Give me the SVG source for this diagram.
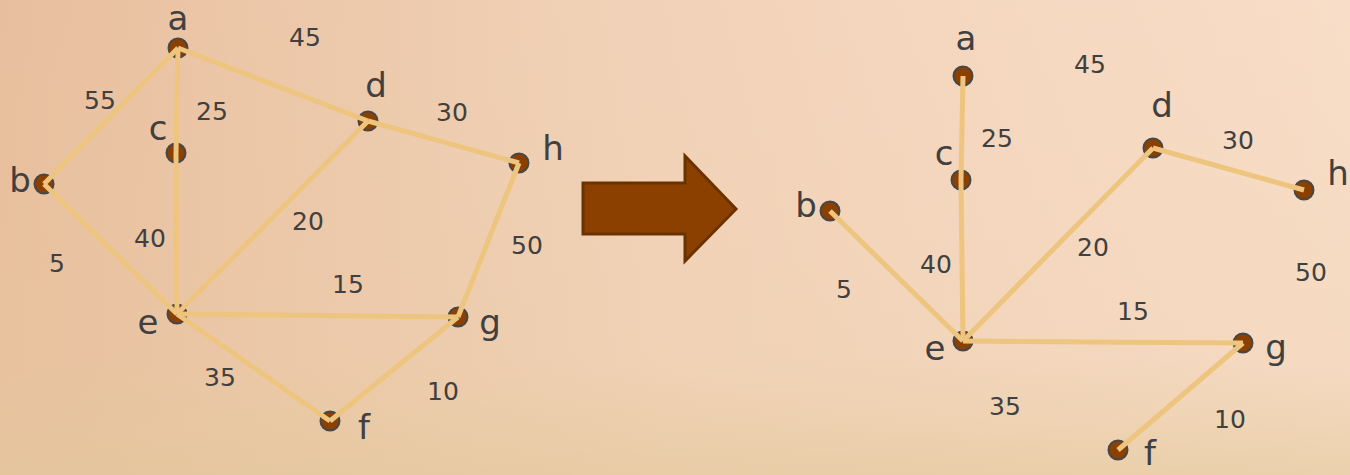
<svg xmlns="http://www.w3.org/2000/svg" width="1350" height="475" viewBox="0 0 1350 475">
<defs>
<linearGradient id="bgH" x1="0" y1="0" x2="1" y2="0">
<stop offset="0" stop-color="#E8BF9E"/>
<stop offset="0.5" stop-color="#F2D3B9"/>
<stop offset="1" stop-color="#F8DDC8"/>
</linearGradient>
<linearGradient id="bgV" x1="0" y1="0" x2="0" y2="1">
<stop offset="0" stop-color="#E6CBA0" stop-opacity="0"/>
<stop offset="0.75" stop-color="#E6CBA0" stop-opacity="0.15"/>
<stop offset="1" stop-color="#E2C89A" stop-opacity="0.6"/>
</linearGradient>
<style>
.nd{fill:#8B4000;stroke:#474747;stroke-width:2}
.lb{font-family:"Comic Sans MS","DejaVu Sans","Noto Sans",sans-serif;font-size:34px;fill:#404040;text-anchor:middle;dominant-baseline:central}
.w{font-family:"Comic Sans MS","DejaVu Sans","Noto Sans",sans-serif;font-size:25px;fill:#404040;text-anchor:middle;dominant-baseline:central}
.ed{stroke:#EEC57E;stroke-width:5;fill:none;stroke-linecap:butt}
</style>
</defs>
<rect width="1350" height="475" fill="url(#bgH)"/>
<rect width="1350" height="475" fill="url(#bgV)"/>

<g id="left-graph-nodes">
<g id="L-a"><circle class="nd" cx="178" cy="48" r="9.5"/><text class="lb" x="178" y="18">a</text></g>
<g id="L-b"><circle class="nd" cx="44" cy="184" r="9.5"/><text class="lb" x="20" y="180">b</text></g>
<g id="L-c"><circle class="nd" cx="176" cy="153" r="9.5"/><text class="lb" x="158" y="128">c</text></g>
<g id="L-d"><circle class="nd" cx="368" cy="121" r="9.5"/><text class="lb" x="376" y="85">d</text></g>
<g id="L-h"><circle class="nd" cx="519" cy="163" r="9.5"/><text class="lb" x="553" y="148">h</text></g>
<g id="L-e"><circle class="nd" cx="177" cy="314" r="9.5"/><text class="lb" x="148" y="322">e</text></g>
<g id="L-g"><circle class="nd" cx="458" cy="317" r="9.5"/><text class="lb" x="490" y="322">g</text></g>
<g id="L-f"><circle class="nd" cx="330" cy="421" r="9.5"/><text class="lb" x="364" y="427">f</text></g>
</g>

<g id="left-graph-connectors">
<line class="ed" x1="178" y1="48" x2="44" y2="184"/>
<line class="ed" x1="178" y1="48" x2="176" y2="153"/>
<line class="ed" x1="178" y1="48" x2="368" y2="121"/>
<line class="ed" x1="176" y1="153" x2="177" y2="314"/>
<line class="ed" x1="44" y1="184" x2="177" y2="314"/>
<line class="ed" x1="368" y1="121" x2="177" y2="314"/>
<line class="ed" x1="368" y1="121" x2="519" y2="163"/>
<line class="ed" x1="519" y1="163" x2="458" y2="317"/>
<line class="ed" x1="177" y1="314" x2="458" y2="317"/>
<line class="ed" x1="177" y1="314" x2="330" y2="421"/>
<line class="ed" x1="458" y1="317" x2="330" y2="421"/>
</g>

<g id="left-graph-weights">
<text class="w" x="305" y="37">45</text>
<text class="w" x="100" y="100">55</text>
<text class="w" x="212" y="111">25</text>
<text class="w" x="452" y="112">30</text>
<text class="w" x="308" y="221">20</text>
<text class="w" x="150" y="238">40</text>
<text class="w" x="57" y="263">5</text>
<text class="w" x="527" y="245">50</text>
<text class="w" x="348" y="284">15</text>
<text class="w" x="220" y="377">35</text>
<text class="w" x="443" y="391">10</text>
</g>

<g id="arrow">
<polygon points="583,183 685,183 685,156 736,209 685,261 685,234 583,234" fill="#8B4000" stroke="#6B3200" stroke-width="3" stroke-linejoin="miter"/>
</g>

<g id="right-graph-nodes">
<g id="R-a"><circle class="nd" cx="963" cy="76" r="9.5"/><text class="lb" x="966" y="38">a</text></g>
<g id="R-c"><circle class="nd" cx="961" cy="180" r="9.5"/><text class="lb" x="944" y="153">c</text></g>
<g id="R-b"><circle class="nd" cx="830" cy="211" r="9.5"/><text class="lb" x="806" y="205">b</text></g>
<g id="R-d"><circle class="nd" cx="1153" cy="148" r="9.5"/><text class="lb" x="1162" y="105">d</text></g>
<g id="R-h"><circle class="nd" cx="1304" cy="190" r="9.5"/><text class="lb" x="1338" y="173">h</text></g>
<g id="R-e"><circle class="nd" cx="963" cy="341" r="9.5"/><text class="lb" x="935" y="348">e</text></g>
<g id="R-g"><circle class="nd" cx="1243" cy="343" r="9.5"/><text class="lb" x="1276" y="347">g</text></g>
<g id="R-f"><circle class="nd" cx="1118" cy="450" r="9.5"/><text class="lb" x="1150" y="453">f</text></g>
</g>

<g id="right-graph-connectors">
<line class="ed" x1="963" y1="76" x2="961" y2="180"/>
<line class="ed" x1="961" y1="180" x2="963" y2="341"/>
<line class="ed" x1="830" y1="211" x2="963" y2="341"/>
<line class="ed" x1="1153" y1="148" x2="963" y2="341"/>
<line class="ed" x1="1153" y1="148" x2="1304" y2="190"/>
<line class="ed" x1="963" y1="341" x2="1243" y2="343"/>
<line class="ed" x1="1243" y1="343" x2="1118" y2="450"/>
</g>

<g id="right-graph-weights">
<text class="w" x="1090" y="64">45</text>
<text class="w" x="997" y="138">25</text>
<text class="w" x="1238" y="140">30</text>
<text class="w" x="1093" y="247">20</text>
<text class="w" x="936" y="264">40</text>
<text class="w" x="844" y="289">5</text>
<text class="w" x="1311" y="272">50</text>
<text class="w" x="1133" y="311">15</text>
<text class="w" x="1005" y="406">35</text>
<text class="w" x="1230" y="419">10</text>
</g>
</svg>
